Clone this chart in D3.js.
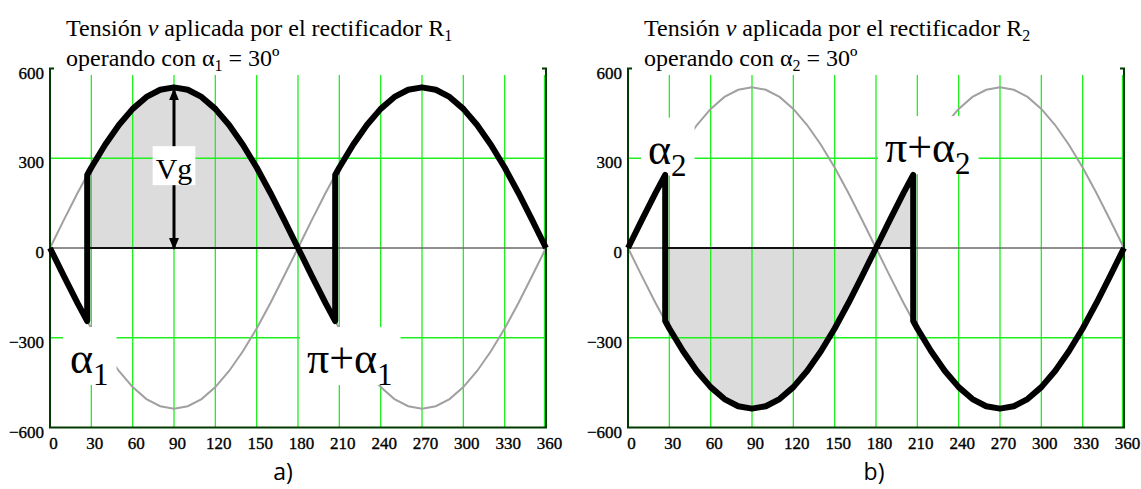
<!DOCTYPE html>
<html>
<head>
<meta charset="utf-8">
<script src="https://cdn.jsdelivr.net/npm/d3@7"></script>
<style>
  html, body { margin: 0; padding: 0; background: #fff; }
  svg { display: block; }
  .tick text { font-family: 'Liberation Serif', 'Times New Roman', serif; font-size: 17px; stroke: #000; stroke-width: 0.35px; }
</style>
</head>
<body>
<svg id="chart" width="1141" height="489"></svg>
<script>
// Angle axis (degrees) and value axis ticks
const xTicks = [0, 30, 60, 90, 120, 150, 180, 210, 240, 270, 300, 330, 360];
const yTicks = [-600, -300, 0, 300, 600];

// Supply phase voltage (thin grey) sampled every 10 degrees, volts
const srcDeg = [0, 10, 20, 30, 40, 50, 60, 70, 80, 90, 100, 110, 120, 130, 140, 150, 160, 170, 180,
                190, 200, 210, 220, 230, 240, 250, 260, 270, 280, 290, 300, 310, 320, 330, 340, 350, 360];
const srcPos = [0, 93, 184, 269, 345, 411, 465, 505, 529, 537, 529, 505, 465, 411, 345, 269, 184, 93, 0,
                -93, -184, -269, -345, -411, -465, -505, -529, -537, -529, -505, -465, -411, -345, -269, -184, -93, 0];
const srcNeg = [0, -93, -184, -269, -345, -411, -465, -505, -529, -537, -529, -505, -465, -411, -345, -269, -184, -93, 0,
                93, 184, 269, 345, 411, 465, 505, 529, 537, 529, 505, 465, 411, 345, 269, 184, 93, 0];

// Rectifier output voltage v (thick black), with the firing jumps
const outDeg = [0, 10, 20, 27, 27, 30, 40, 50, 60, 70, 80, 90, 100, 110, 120, 130, 140, 150, 160, 170, 180,
                190, 200, 207, 207, 210, 220, 230, 240, 250, 260, 270, 280, 290, 300, 310, 320, 330, 340, 350, 360];
const outR1 = [0, -93, -184, -244, 244, 269, 345, 411, 465, 505, 529, 537, 529, 505, 465, 411, 345, 269, 184, 93, 0,
               -93, -184, -244, 244, 269, 345, 411, 465, 505, 529, 537, 529, 505, 465, 411, 345, 269, 184, 93, 0];
const outR2 = [0, 93, 184, 244, -244, -269, -345, -411, -465, -505, -529, -537, -529, -505, -465, -411, -345, -269, -184, -93, 0,
               93, 184, 244, -244, -269, -345, -411, -465, -505, -529, -537, -529, -505, -465, -411, -345, -269, -184, -93, 0];

// Conduction interval that is shaded (indices into outDeg)
const shadeFrom = 4, shadeTo = 23;

// Peak value marked with the Vg arrow
const vgAngle = 90, vgPeak = 537;

const SERIF = "'Liberation Serif', 'Times New Roman', serif";
const svg = d3.select("#chart");

const panels = [
  { left: 50,  right: 546, out: outR1, sub: "1", letter: "a)", cx: 283,
    labels: [{ t: 14.5, v: -418, pre: "" }, { t: 186.5, v: -418, pre: "π+" }], vg: true },
  { left: 628, right: 1124, out: outR2, sub: "2", letter: "b)", cx: 874,
    labels: [{ t: 14.5, v: 282, pre: "" }, { t: 186.5, v: 287, pre: "π+" }], vg: false }
];

const GRID = "#1ef01e", FRAME = "#003a00";

panels.forEach(p => {
  const x = d3.scaleLinear().domain([0, 360]).range([p.left, p.right]);
  const y = d3.scaleLinear().domain([-600, 600]).range([427.5, 68.5]);
  const g = svg.append("g");

  // Title
  const title = g.append("text").style("font-family", SERIF).style("font-size", "24px");
  const l1 = title.append("tspan").attr("x", p.left + 16).attr("y", 36);
  l1.append("tspan").text("Tensión ");
  l1.append("tspan").style("font-style", "italic").text("v");
  l1.append("tspan").text(" aplicada por el rectificador R");
  l1.append("tspan").style("font-size", "16px").attr("dy", 5).text(p.sub);
  const l2 = title.append("tspan").attr("x", p.left + 16).attr("y", 66);
  l2.append("tspan").text("operando con α");
  l2.append("tspan").style("font-size", "16px").attr("dy", 5).text(p.sub);
  l2.append("tspan").attr("dy", -5).text(" = 30º");

  // Shaded conduction area
  const seg = d3.range(shadeFrom, shadeTo + 1).map(i => [outDeg[i], p.out[i]]);
  g.append("path")
    .datum(seg)
    .attr("fill", "#dcdcdc")
    .attr("d", d3.area().x(d => x(d[0])).y0(y(0)).y1(d => y(d[1])));

  // Grid
  g.selectAll(".vg").data(xTicks.slice(1)).join("line")
    .attr("x1", d => x(d) - (d === 360 ? 1.5 : 0)).attr("x2", d => x(d) - (d === 360 ? 1.5 : 0))
    .attr("y1", 75).attr("y2", y(-600))
    .attr("stroke", GRID).attr("stroke-width", 1.3);
  g.selectAll(".hg").data([-300, 300]).join("line")
    .attr("x1", x(0)).attr("x2", x(360))
    .attr("y1", d => y(d)).attr("y2", d => y(d))
    .attr("stroke", GRID).attr("stroke-width", 1.3);

  // Zero line
  g.append("line")
    .attr("x1", x(0)).attr("x2", x(360)).attr("y1", y(0)).attr("y2", y(0))
    .attr("stroke", "#6a6a6a").attr("stroke-width", 1.5);

  // Supply voltages (grey)
  const line = d3.line().x(d => x(d[0])).y(d => y(d[1]));
  [srcPos, srcNeg].forEach(arr => {
    g.append("path")
      .datum(srcDeg.map((d, i) => [d, arr[i]]))
      .attr("fill", "none").attr("stroke", "#a0a0a0").attr("stroke-width", 2)
      .attr("d", line);
  });

  // Base of the shaded area
  g.append("line")
    .attr("x1", x(outDeg[shadeFrom])).attr("x2", x(outDeg[shadeTo]))
    .attr("y1", y(0)).attr("y2", y(0))
    .attr("stroke", "#111").attr("stroke-width", 2);

  // Vg arrow
  if (p.vg) {
    const defs = svg.append("defs");
    ["s", "e"].forEach(k => {
      defs.append("marker")
        .attr("id", "arr" + k).attr("viewBox", "0 0 12 10")
        .attr("refX", 11).attr("refY", 5)
        .attr("markerWidth", 12).attr("markerHeight", 10)
        .attr("markerUnits", "userSpaceOnUse")
        .attr("orient", k === "s" ? "auto-start-reverse" : "auto")
        .append("path").attr("d", "M0,0 L12,5 L0,10 Z").attr("fill", "#000");
    });
    g.append("line")
      .attr("x1", x(vgAngle)).attr("x2", x(vgAngle))
      .attr("y1", y(vgPeak) + 2).attr("y2", y(0) + 1)
      .attr("stroke", "#000").attr("stroke-width", 3)
      .attr("marker-start", "url(#arrs)").attr("marker-end", "url(#arre)");
    const vt = g.append("text").style("font-family", SERIF).style("font-size", "30px")
      .attr("x", x(vgAngle)).attr("y", y(230)).attr("text-anchor", "middle").text("Vg");
    const b = vt.node().getBBox();
    g.insert("rect", () => vt.node())
      .attr("x", b.x - 3).attr("y", y(230) - 33).attr("width", b.width + 6).attr("height", 39)
      .attr("fill", "#fff");
  }

  // Firing angle labels
  p.labels.forEach(L => {
    const t = g.append("text").style("font-family", SERIF).style("font-size", "44px")
      .attr("x", x(L.t)).attr("y", y(L.v));
    t.append("tspan").text(L.pre + "α");
    t.append("tspan").style("font-size", "31px").attr("dy", 12).text(p.sub);
    const b = t.node().getBBox();
    g.insert("rect", () => t.node())
      .attr("x", b.x - 7).attr("y", y(L.v) - 46)
      .attr("width", b.width + 15).attr("height", 58)
      .attr("fill", "#fff");
  });

  // Frame: left/right rails with top hooks, bottom edge
  const fr = g.append("g").attr("stroke", FRAME).attr("stroke-width", 2).attr("fill", "none");
  fr.append("path").attr("d", `M${x(0) + 4},${y(600)} H${x(0)} V${y(-600)} H${x(360)} V${y(600)} H${x(360) - 4}`);

  // Output voltage (thick black)
  g.append("path")
    .datum(outDeg.map((d, i) => [d, p.out[i]]))
    .attr("fill", "none").attr("stroke", "#000").attr("stroke-width", 6)
    .attr("stroke-linejoin", "round")
    .attr("d", line);

  // Axes
  const ya = g.append("g").attr("transform", `translate(${x(0)},0)`)
    .call(d3.axisLeft(y).tickValues(yTicks).tickSize(0).tickPadding(6))
    .attr("font-size", null).attr("font-family", null);
  ya.select(".domain").remove();
  ya.selectAll("text").attr("dy", "0.56em").attr("fill", "#000");

  const xa = g.append("g").attr("transform", `translate(0,${y(-600)})`)
    .call(d3.axisBottom(x).tickValues(xTicks).tickSize(0).tickPadding(9))
    .attr("font-size", null).attr("font-family", null);
  xa.select(".domain").remove();
  xa.selectAll("text").attr("dx", 3).attr("fill", "#000");

  // Panel letter
  g.append("text").attr("x", p.cx).attr("y", 480).attr("text-anchor", "middle")
    .style("font-family", "'Open Sans', sans-serif").style("font-size", "23px").text(p.letter);
});
</script>
</body>
</html>
